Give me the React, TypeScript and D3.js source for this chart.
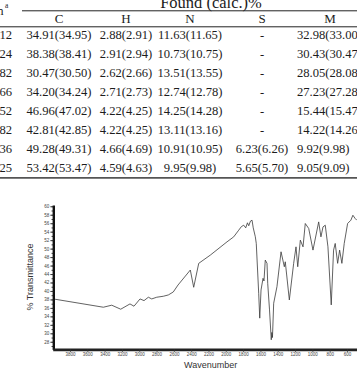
import React, { useEffect, useRef } from "react";
import * as d3 from "d3";

// ---- Table data ----
const rowIds = ["12", "24", "82", "66", "52", "82", "36", "25"];
const colHeaders = ["C", "H", "N", "S", "M"];
const cVals = ["34.91(34.95)", "38.38(38.41)", "30.47(30.50)", "34.20(34.24)", "46.96(47.02)", "42.81(42.85)", "49.28(49.31)", "53.42(53.47)"];
const hVals = ["2.88(2.91)", "2.91(2.94)", "2.62(2.66)", "2.71(2.73)", "4.22(4.25)", "4.22(4.25)", "4.66(4.69)", "4.59(4.63)"];
const nVals = ["11.63(11.65)", "10.73(10.75)", "13.51(13.55)", "12.74(12.78)", "14.25(14.28)", "13.11(13.16)", "10.91(10.95)", "9.95(9.98)"];
const sVals = ["-", "-", "-", "-", "-", "-", "6.23(6.26)", "5.65(5.70)"];
const mVals = ["32.98(33.00)", "30.43(30.47)", "28.05(28.08)", "27.23(27.28)", "15.44(15.47)", "14.22(14.26)", "9.92(9.98)", "9.05(9.09)"];

// ---- Spectrum data ----
const wavenumbers = [3973, 3415, 3318, 3214, 3107, 3061, 2991, 2945, 2895, 2856, 2798, 2722, 2664, 2607, 2552, 2410, 2371, 2313, 2179, 1986, 1909, 1851, 1820, 1793, 1770, 1750, 1735, 1715, 1697, 1683, 1659, 1648, 1620, 1608, 1593, 1570, 1559, 1544, 1524, 1516, 1495, 1475, 1468, 1461, 1447, 1409, 1362, 1324, 1313, 1266, 1216, 1189, 1169, 1139, 1108, 1082, 1042, 993, 927, 901, 877, 851, 820, 782, 755, 736, 708, 685, 659, 632, 593, 555, 532, 505, 486];
const transmittance = [38.05, 36.16, 36.64, 35.69, 36.94, 36.4, 38.12, 37.72, 38.52, 38.12, 38.52, 38.75, 39.06, 39.76, 41.41, 44.94, 40.87, 46.52, 48.47, 51.6, 52.78, 54.35, 55.2, 55.53, 54.9, 56.1, 55.4, 56.5, 56.71, 54.9, 52.8, 51.22, 39.46, 33.58, 40.24, 42.99, 42.35, 47.29, 46.52, 41.81, 35.53, 28.47, 30.2, 29.0, 37.1, 41.01, 49.25, 45.72, 46.89, 37.88, 46.52, 50.42, 45.72, 52.0, 50.42, 55.93, 54.75, 49.65, 56.31, 52.78, 55.13, 55.53, 50.42, 36.71, 49.65, 51.22, 46.52, 49.65, 46.52, 51.22, 55.93, 56.71, 57.88, 57.1, 56.71];
const yTickLabels = d3.range(28, 61, 2);
const xTickLabels = d3.range(3800, 599, -200);

const W = 357;
const H = 369;

export default function App() {
  const axRef = useRef<SVGGElement>(null);

  const x = d3.scaleLinear().domain([4000, 400]).range([52.7, 364.3]);
  const y = d3.scaleLinear().domain([26.2, 60.3]).range([349.4, 205]);

  const rowY = d3.scaleLinear().domain([0, 7]).range([38.7, 171.7]);
  const colX = [59, 126, 190, 262, 330];

  const pts = wavenumbers.map((w, i) => [w, transmittance[i]] as [number, number]);
  const line = d3.line<[number, number]>().x((d) => x(d[0])).y((d) => y(d[1]));

  useEffect(() => {
    const g = d3.select(axRef.current);
    g.selectAll("*").remove();
    const font = "Liberation Sans, Arial, sans-serif";
    const fmt = d3.format("d");

    // y minor ticks
    g.append("g")
      .attr("transform", "translate(53.3,0)")
      .call(d3.axisLeft(y).tickValues(d3.range(27, 61, 1)).tickFormat(() => "").tickSize(1.8).tickSizeOuter(0))
      .call((s) => s.select(".domain").remove())
      .call((s) => s.selectAll("line").attr("stroke", "#333").attr("stroke-width", 0.9));
    // y major
    g.append("g")
      .attr("transform", "translate(53.3,0)")
      .call(d3.axisLeft(y).tickValues(yTickLabels).tickFormat((d) => fmt(d as number)).tickSize(3).tickPadding(1).tickSizeOuter(0))
      .call((s) => s.select(".domain").attr("stroke", "#111").attr("stroke-width", 2.4))
      .call((s) => s.selectAll("line").attr("stroke", "#333").attr("stroke-width", 0.9))
      .call((s) => s.selectAll("text").attr("font-size", 4.5).attr("font-family", font).attr("fill", "#444"));

    // x minor
    g.append("g")
      .attr("transform", "translate(0,349.4)")
      .call(d3.axisBottom(x).tickValues(d3.range(3950, 399, -50)).tickFormat(() => "").tickSize(1.6).tickSizeOuter(0))
      .call((s) => s.select(".domain").remove())
      .call((s) => s.selectAll("line").attr("stroke", "#555").attr("stroke-width", 0.8));
    // x major
    g.append("g")
      .attr("transform", "translate(0,349.4)")
      .call(d3.axisBottom(x).tickValues(xTickLabels).tickFormat((d) => fmt(d as number)).tickSize(2.5).tickPadding(0.8).tickSizeOuter(0))
      .call((s) => s.select(".domain").attr("stroke", "#222").attr("stroke-width", 2.6))
      .call((s) => s.selectAll("line").attr("stroke", "#333").attr("stroke-width", 0.8))
      .call((s) => s.selectAll("text").attr("font-size", 4.5).attr("font-family", font).attr("fill", "#444"));
  }, []);

  const serif = "Liberation Serif, Times New Roman, serif";
  const sans = "Liberation Sans, Arial, sans-serif";
  const tcol = "#1c1c1c";

  const cols = [cVals, hVals, nVals, sVals];

  return (
    <svg width={W} height={H} style={{ position: "absolute", left: 0, top: 0, background: "#fff" }}>
      <rect x={0} y={0} width={W} height={H} fill="#fff" />
      {/* Table */}
      <g fontFamily={serif} fill={tcol}>
        <text x={211} y={7.6} fontSize={16.5} textAnchor="middle">
          Found (calc.)%
        </text>
        <text x={3.5} y={14.5} fontSize={12.6} textAnchor="end">n</text>
        <text x={5} y={7.5} fontSize={7.5}>a</text>
        <line x1={22} x2={W} y1={10.8} y2={10.8} stroke="#222" strokeWidth={1} />
        {colHeaders.map((h, i) => (
          <text key={h} x={colX[i]} y={22.6} fontSize={13} textAnchor="middle">{h}</text>
        ))}
        <line x1={0} x2={W} y1={26.8} y2={26.8} stroke="#222" strokeWidth={1} />
        {rowIds.map((r, ri) => (
          <g key={ri}>
            <text x={12} y={rowY(ri)} fontSize={12.6} textAnchor="end">{r}</text>
            {cols.map((c, ci) => (
              <text key={ci} x={colX[ci]} y={rowY(ri)} fontSize={12.6} textAnchor="middle">{c[ri]}</text>
            ))}
            <text x={297} y={rowY(ri)} fontSize={12.6} textAnchor="start">{mVals[ri]}</text>
          </g>
        ))}
        <line x1={0} x2={W} y1={177.8} y2={177.8} stroke="#555" strokeWidth={1.8} />
      </g>

      {/* Spectrum */}
      <g ref={axRef} />
      <path d={line(pts) || ""} fill="none" stroke="#3a3a3a" strokeWidth={0.8} strokeLinejoin="round" />
      <text transform="translate(33.3,277) rotate(-90)" fontSize={9} fontFamily={sans} textAnchor="middle" fill="#333">
        % Transmittance
      </text>
      <text x={184} y={367.5} fontSize={9} fontFamily={sans} fill="#333">Wavenumber</text>
    </svg>
  );
}
